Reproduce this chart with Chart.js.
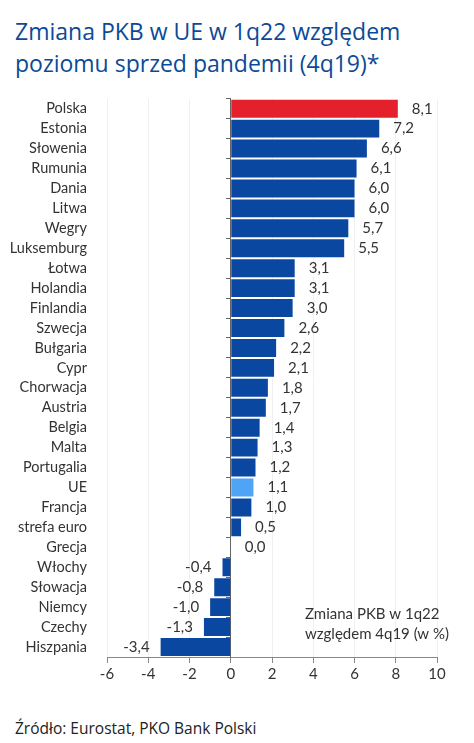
<!DOCTYPE html>
<html>
<head>
<meta charset="utf-8">
<script src="https://cdn.jsdelivr.net/npm/chart.js@4/dist/chart.umd.min.js"></script>
<style>
  body { margin: 0; background: #fff; width: 474px; height: 743px; position: relative; overflow: hidden; font-family: "Open Sans", sans-serif; }
  #title { position: absolute; left: 15px; top: 15px; color: #0b4a98; font-size: 23px; line-height: 32px; }
  #wrap { position: absolute; left: 0; top: 78px; width: 474px; height: 607px; }
  #source { position: absolute; left: 15px; top: 717px; color: #222; font-size: 15.5px; }
</style>
</head>
<body>
<div id="title">Zmiana PKB w UE w 1q22 względem<br>poziomu sprzed pandemii (4q19)*</div>
<div id="wrap"><canvas id="chart"></canvas></div>
<div id="source">Źródło: Eurostat, PKO Bank Polski</div>
<script>
// Kraje i zmiana PKB 1q22 vs 4q19 (w %)
const kraje = ['Polska', 'Estonia', 'Słowenia', 'Rumunia', 'Dania', 'Litwa', 'Wegry', 'Luksemburg',
    'Łotwa', 'Holandia', 'Finlandia', 'Szwecja', 'Bułgaria', 'Cypr', 'Chorwacja', 'Austria',
    'Belgia', 'Malta', 'Portugalia', 'UE', 'Francja', 'strefa euro', 'Grecja', 'Włochy',
    'Słowacja', 'Niemcy', 'Czechy', 'Hiszpania'];
const zmiana = [8.1, 7.2, 6.6, 6.1, 6.0, 6.0, 5.7, 5.5, 3.1, 3.1, 3.0, 2.6, 2.2, 2.1, 1.8, 1.7,
    1.4, 1.3, 1.2, 1.1, 1.0, 0.5, 0.0, -0.4, -0.8, -1.0, -1.3, -3.4];
const xTicks = [-6, -4, -2, 0, 2, 4, 6, 8, 10];

const kolory = kraje.map(k => k === 'Polska' ? '#e3202c' : (k === 'UE' ? '#4fa4f5' : '#0a47a0'));

// Etykiety wartości przy słupkach
const valueLabels = {
    id: 'valueLabels',
    afterDatasetsDraw(chart) {
        const ctx = chart.ctx;
        const meta = chart.getDatasetMeta(0);
        ctx.save();
        ctx.font = '15px Lato';
        ctx.fillStyle = '#333';
        ctx.textBaseline = 'middle';
        meta.data.forEach((bar, i) => {
            const v = zmiana[i];
            const txt = v.toFixed(1).replace('.', ',');
            if (v < 0) {
                ctx.textAlign = 'right';
                ctx.fillText(txt, bar.x - 11, bar.y);
            } else {
                ctx.textAlign = 'left';
                ctx.fillText(txt, bar.x + 14, bar.y);
            }
        });
        ctx.restore();
    }
};

// Opis w prawym dolnym rogu
const note = {
    id: 'note',
    afterDraw(chart) {
        const ctx = chart.ctx;
        const x = chart.scales.x.getPixelForValue(3.6);
        const y = chart.chartArea.bottom;
        ctx.save();
        ctx.font = '15px Lato';
        ctx.fillStyle = '#333';
        ctx.textAlign = 'left';
        ctx.textBaseline = 'alphabetic';
        ctx.fillText('Zmiana PKB w 1q22', x, y - 38);
        ctx.fillText('względem 4q19 (w %)', x, y - 18);
        ctx.restore();
    }
};

new Chart(document.getElementById('chart'), {
    type: 'bar',
    data: {
        labels: kraje,
        datasets: [{
            data: zmiana,
            backgroundColor: kolory,
            barPercentage: 0.9,
            categoryPercentage: 1.0
        }]
    },
    options: {
        indexAxis: 'y',
        responsive: true,
        maintainAspectRatio: false,
        animation: false,
        layout: { padding: { top: 7, right: 37, left: 0, bottom: 0 } },
        plugins: { legend: { display: false }, tooltip: { enabled: false } },
        scales: {
            x: {
                min: -6,
                max: 10,
                afterBuildTicks: (s) => { s.ticks = xTicks.map(v => ({ value: v })); },
                grid: { color: '#f0f0f0', tickColor: '#888', tickLength: 6 },
                border: { color: '#888' },
                ticks: { color: '#333', font: { family: 'Lato', size: 15 }, padding: 2 }
            },
            y: {
                grid: { display: false },
                border: { display: false },
                ticks: { color: '#333', font: { family: 'Lato', size: 14.5 }, padding: 12, autoSkip: false },
                afterFit: (s) => { s.width = 107; }
            },
            y2: {
                type: 'category',
                labels: kraje,
                position: { x: 0 },
                offset: true,
                grid: { offset: true, drawOnChartArea: false, tickLength: 4, color: '#666' },
                border: { display: true, color: '#666' },
                ticks: { display: false }
            }
        }
    },
    plugins: [valueLabels, note]
});
</script>
</body>
</html>
